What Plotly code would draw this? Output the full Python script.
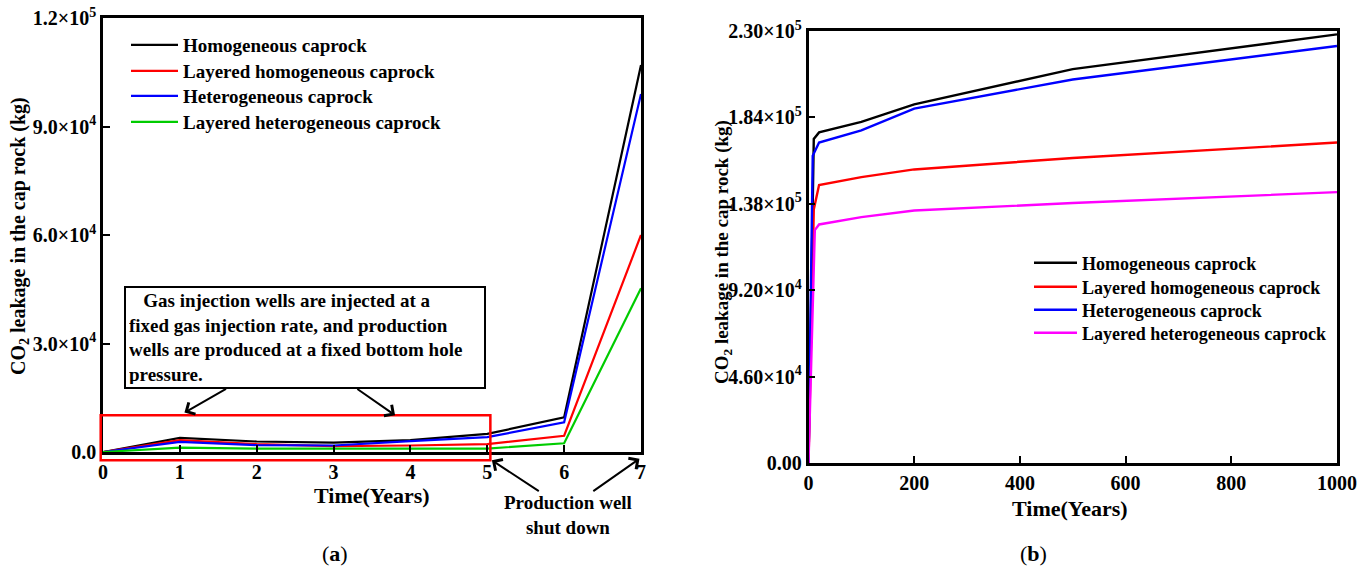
import plotly.graph_objects as go

# ---------------- data ----------------
years_a = [0, 1, 2, 3, 4, 5, 6, 7]
homog_a = [0, 3900, 2900, 2600, 3300, 5000, 9600, 107000]
lay_homog_a = [0, 3300, 2200, 1600, 1800, 2200, 4500, 60000]
heter_a = [0, 2800, 1900, 1800, 3000, 4100, 8200, 99000]
lay_heter_a = [0, 1200, 950, 900, 900, 950, 2400, 45300]

years_b_h = [0, 10, 20, 100, 200, 500, 1000]
homog_b = [0, 172500, 176000, 181600, 190900, 209700, 228200]
years_b_he = [0, 8, 20, 100, 200, 500, 1000]
heter_b = [0, 163600, 170600, 177100, 188700, 204200, 222000]
years_b_lh = [0, 10, 20, 100, 200, 500, 1000]
lay_homog_b = [0, 135000, 148000, 152200, 156300, 162400, 170600]
years_b_lhe = [0, 12, 20, 100, 200, 500, 1000]
lay_heter_b = [0, 124000, 127000, 130900, 134400, 138400, 144200]

names = ["Homogeneous caprock", "Layered homogeneous caprock",
         "Heterogeneous caprock", "Layered heterogeneous caprock"]

ytick_a = [0, 30000, 60000, 90000, 120000]
ytext_a = ["0.0", "3.0×10<sup>4</sup>", "6.0×10<sup>4</sup>", "9.0×10<sup>4</sup>", "1.2×10<sup>5</sup>"]
ytick_b = [0, 46000, 92000, 138000, 184000, 230000]
ytext_b = ["0.00", "4.60×10<sup>4</sup>", "9.20×10<sup>4</sup>", "1.38×10<sup>5</sup>",
           "1.84×10<sup>5</sup>", "2.30×10<sup>5</sup>"]
xtick_b = [0, 200, 400, 600, 800, 1000]

W, H = 1365, 573
FONT = "Liberation Serif"

# axis domains (paper)
dxa = [103 / W, 641 / W]
dya = [1 - 452 / H, 1 - 18 / H]
dxb = [808.5 / W, 1337 / W]
dyb = [1 - 463 / H, 1 - 31 / H]
rxa, rya = [0, 7], [0, 120000]


def pa_x(v):
    return dxa[0] + (v - rxa[0]) / (rxa[1] - rxa[0]) * (dxa[1] - dxa[0])


def pa_y(v):
    return dya[0] + (v - rya[0]) / (rya[1] - rya[0]) * (dya[1] - dya[0])


fig = go.Figure()

# one legend per entry so rows can be spaced like the reference
rows_a = [45, 71, 96, 122]
rows_b = [263, 287, 310, 333]
leg_layout = {}

cols_a = ["#000000", "#ff0000", "#0000ff", "#00cc00"]
for i, (nm, ys, c) in enumerate(zip(names, [homog_a, lay_homog_a, heter_a, lay_heter_a], cols_a)):
    key = "legend" if i == 0 else f"legend{i + 1}"
    fig.add_trace(go.Scatter(x=years_a, y=ys, name=nm, mode="lines",
                             line=dict(color=c, width=2.2), xaxis="x", yaxis="y",
                             legend=key))
    leg_layout[key] = dict(x=126 / W, y=1 - rows_a[i] / H, xanchor="left", yanchor="middle",
                           bgcolor="rgba(0,0,0,0)", itemwidth=47,
                           font=dict(family=FONT, size=19, color="black", weight="bold"))

cols_b = ["#000000", "#ff0000", "#0000ff", "#ff00ff"]
for i, (nm, xs, ys, c) in enumerate(zip(names,
                                        [years_b_h, years_b_lh, years_b_he, years_b_lhe],
                                        [homog_b, lay_homog_b, heter_b, lay_heter_b], cols_b)):
    key = f"legend{i + 5}"
    fig.add_trace(go.Scatter(x=xs, y=ys, name=nm, mode="lines",
                             line=dict(color=c, width=2.4), xaxis="x2", yaxis="y2",
                             legend=key))
    leg_layout[key] = dict(x=1029 / W, y=1 - rows_b[i] / H, xanchor="left", yanchor="middle",
                           bgcolor="rgba(0,0,0,0)", itemwidth=43,
                           font=dict(family=FONT, size=18, color="black", weight="bold"))

axcommon = dict(showline=True, linecolor="black", linewidth=2.5, mirror=True,
                ticks="inside", ticklen=7, tickwidth=2, tickcolor="black",
                showgrid=False, zeroline=False, automargin=False,
                tickfont=dict(family=FONT, size=20, color="black", weight="bold"))

fig.update_layout(
    template="none",
    width=W, height=H, margin=dict(l=0, r=0, t=0, b=0, pad=0, autoexpand=False),
    paper_bgcolor="white", plot_bgcolor="white",
    xaxis=dict(domain=dxa, range=rxa, tickvals=years_a, anchor="y", **axcommon),
    yaxis=dict(domain=dya, range=rya, tickvals=ytick_a, ticktext=ytext_a, anchor="x", **axcommon),
    xaxis2=dict(domain=dxb, range=[0, 1000], tickvals=xtick_b, anchor="y2", **axcommon),
    yaxis2=dict(domain=dyb, range=[0, 230000], tickvals=ytick_b, ticktext=ytext_b, anchor="x2", **axcommon),
    showlegend=True,
    **leg_layout,
)

bold = dict(family=FONT, color="black", weight="bold")
ann = []


def centered(text, px, py, size, fnt, angle=0):
    return dict(text=text, x=px / W, y=1 - py / H, xref="paper", yref="paper",
                xanchor="center", yanchor="middle", textangle=angle,
                showarrow=False, font=dict(size=size, **fnt))


# axis titles
ann.append(centered("CO<sub>2</sub> leakage in the cap rock (kg)", 19, 236, 20, bold, -90))
ann.append(centered("CO<sub>2</sub> leakage in the cap rock (kg)", 723, 252, 19, bold, -90))
ann.append(centered("Time(Years)", 372, 495, 22, bold))
ann.append(centered("Time(Years)", 1070, 508, 22, bold))
ann.append(centered("(<b>a</b>)", 335, 553, 22, dict(family=FONT, color="black")))
ann.append(centered("(<b>b</b>)", 1033, 553, 22, dict(family=FONT, color="black")))
# text box
ann.append(dict(text="\u00a0\u00a0\u00a0Gas injection wells are injected at a<br>"
                     "fixed gas injection rate, and production<br>"
                     "wells are produced at a fixed bottom hole<br>pressure.",
                x=124 / W, y=1 - 286 / H, xref="paper", yref="paper",
                xanchor="left", yanchor="top", align="left", showarrow=False,
                width=352, height=93, borderpad=3, bordercolor="black", borderwidth=2,
                bgcolor="white", font=dict(size=19, **bold)))
ann.append(dict(text="Production well<br>shut down", x=pa_x(6.05), y=pa_y(-17300),
                xref="paper", yref="paper", xanchor="center", yanchor="middle",
                showarrow=False, font=dict(size=19, **bold)))

# arrows (head in paper coords, tail as pixel offset)
px_per_x = (dxa[1] - dxa[0]) * W / (rxa[1] - rxa[0])
px_per_y = (dya[1] - dya[0]) * H / (rya[1] - rya[0])
for hx, hy, tx, ty in [(1.06, 10900, 1.62, 17700), (3.80, 10150, 3.29, 17700),
                       (5.06, -2300, 5.69, -11100), (6.98, -1850, 6.36, -11100)]:
    ann.append(dict(text="", x=pa_x(hx), y=pa_y(hy), xref="paper", yref="paper",
                    ax=(tx - hx) * px_per_x, ay=-(ty - hy) * px_per_y,
                    axref="pixel", ayref="pixel", showarrow=True, arrowhead=4,
                    arrowsize=1.3, arrowwidth=2, arrowcolor="black"))
fig.update_layout(annotations=ann)

# red highlight rectangle
fig.add_shape(type="rect", xref="paper", yref="paper",
              x0=pa_x(-0.03), x1=pa_x(5.04), y0=pa_y(-2300), y1=pa_y(10150),
              line=dict(color="#ff0000", width=2.5), fillcolor="rgba(0,0,0,0)", layer="above")

fig.write_html("out.html")
